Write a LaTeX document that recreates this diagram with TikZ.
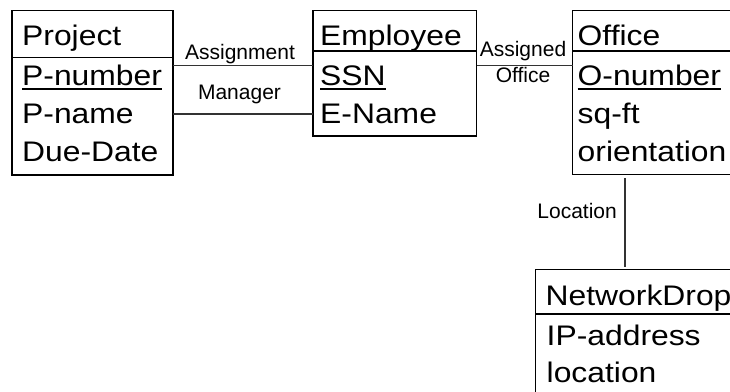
\documentclass[tikz,border=0pt]{standalone}
\usepackage{fontspec}
\setmainfont{Liberation Sans}
\newfontfamily\attrfont{Liberation Sans}[FakeStretch=1.125]
\begin{document}
\begin{tikzpicture}[x=1pt,y=-1pt,
  entity/.style={draw=black, line width=1.1pt, inner sep=0pt, outer sep=0pt, anchor=north west},
  divider/.style={draw=black, line width=1.1pt},
  attr/.style={anchor=base west, inner sep=0pt, font=\attrfont\fontsize{28.3}{28.3}\selectfont},
  keyline/.style={line width=2pt, line cap=butt},
  rel/.style={anchor=base, inner sep=0pt, font=\fontsize{21}{21}\selectfont},
  link/.style={draw=black!80, line width=1.1pt}]
\useasboundingbox (0,0) rectangle (730,391);
\clip (0,0) rectangle (730,391);

% Project entity
\node[entity, minimum width=161pt, minimum height=164.3pt] (project) at (12,10.7) {};
\draw[divider] (12,57.7) -- (173,57.7);
\node[attr] (pTitle) at (22,45.7) {Project};
\node[attr] (pNum) at (22,85) {P-number};
\draw[keyline] ([yshift=-4.3pt]pNum.base west) -- ([yshift=-4.3pt]pNum.base east);
\node[attr] (pName) at (22,123) {P-name};
\node[attr] (pDue) at (22,161) {Due-Date};

% Employee entity
\node[entity, minimum width=163.7pt, minimum height=125.3pt] (employee) at (313,10.7) {};
\draw[divider] (313,51) -- (476.7,51);
\node[attr] (eTitle) at (320,45) {Employee};
\node[attr] (eSSN) at (320,85) {SSN};
\draw[keyline] ([yshift=-4.3pt]eSSN.base west) -- ([yshift=-4.3pt]eSSN.base east);
\node[attr] (eName) at (320,123) {E-Name};

% Office entity
\node[entity, minimum width=190pt, minimum height=163.8pt] (office) at (572.7,10.7) {};
\draw[divider] (572.7,51) -- (762.7,51);
\node[attr] (oTitle) at (577.5,45) {Office};
\node[attr] (oNum) at (577.5,85) {O-number};
\draw[keyline] ([yshift=-4.3pt]oNum.base west) -- ([yshift=-4.3pt]oNum.base east);
\node[attr] (oSqft) at (577.5,123) {sq-ft};
\node[attr] (oOrient) at (577.5,161) {orientation};

% NetworkDrop entity
\node[entity, minimum width=230pt, minimum height=160pt] (netdrop) at (535.3,269.3) {};
\draw[divider] (535.3,314) -- (765.3,314);
\node[attr] (nTitle) at (545.5,305) {NetworkDrop};
\node[attr] (nIP) at (546.5,345) {IP-address};
\node[attr] (nLoc) at (546.5,382.3) {location};

% Relationships
\draw[link] (project.east |- 0,65.7) -- (employee.west |- 0,65.7);
\draw[link] (project.east |- 0,114) -- (employee.west |- 0,114);
\node[rel] (assign) at (240,59.3) {Assignment};
\node[rel] (manager) at (239.5,99.3) {Manager};

\draw[link] (employee.east |- 0,65.7) -- (office.west |- 0,65.7);
\node[rel] (assigned) at (523,56) {Assigned};
\node[rel] (assignedOffice) at (523,82.7) {Office};

\draw[link] ([yshift=-3.5pt]office.south -| 625,0) -- ([yshift=2.6pt]netdrop.north -| 625,0);
\node[rel, anchor=base east] (location) at (617,218.3) {Location};
\end{tikzpicture}
\end{document}
